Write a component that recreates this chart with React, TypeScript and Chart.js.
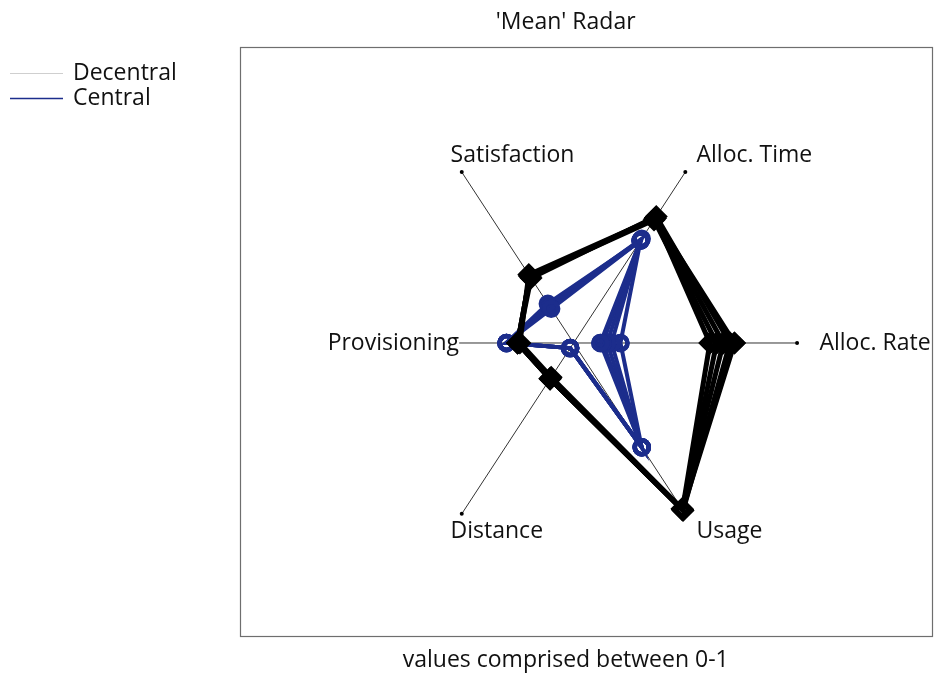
import React, { useEffect, useRef } from "react";
import { Chart, registerables } from "chart.js";

Chart.register(...registerables);

// ---- data ----
const axisLabels = ["Alloc. Rate", "Alloc. Time", "Satisfaction", "Provisioning", "Distance", "Usage"];
const axisAnglesDeg = [0, 60, 120, 180, 240, 300];
const seriesNames = ["Decentral", "Central"];

// values per axis, order: Alloc. Rate, Alloc. Time, Satisfaction, Provisioning, Distance, Usage
const decentralRun1 = [0.61, 0.73, 0.39, 0.25, 0.21, 0.975];
const decentralRun2 = [0.64, 0.72, 0.39, 0.25, 0.21, 0.975];
const decentralRun3 = [0.67, 0.73, 0.4, 0.24, 0.2, 0.97];
const decentralRun4 = [0.7, 0.74, 0.38, 0.25, 0.21, 0.98];
const decentralRun5 = [0.72, 0.73, 0.39, 0.25, 0.21, 0.975];

const centralRun1 = [0.12, 0.6, 0.2, 0.3, 0.03, 0.61];
const centralRun2 = [0.13, 0.6, 0.21, 0.3, 0.03, 0.61];
const centralRun3 = [0.15, 0.61, 0.22, 0.3, 0.03, 0.61];
const centralRun4 = [0.17, 0.6, 0.23, 0.3, 0.03, 0.61];
const centralRun5 = [0.21, 0.6, 0.215, 0.3, 0.03, 0.61];

const decentralRuns = [decentralRun1, decentralRun2, decentralRun3, decentralRun4, decentralRun5];
const centralRuns = [centralRun1, centralRun2, centralRun3, centralRun4, centralRun5];

const axisMax = 1;
const labelRadius = 1.1;
const chartTitle = "'Mean' Radar";
const xAxisTitle = "values comprised between 0-1";

// ---- styles ----
const FONT = "'Open Sans', 'DejaVu Sans', sans-serif";
const FONT_SIZE = 23;
const BLUE = "#1c2d8c";
const BLACK = "#000000";

const toXY = (v: number, i: number) => {
  const a = (axisAnglesDeg[i] * Math.PI) / 180;
  return { x: v * Math.cos(a), y: v * Math.sin(a) };
};

const closedPolygon = (vals: number[]) => {
  const pts = vals.map((v, i) => toXY(v, i));
  pts.push(pts[0]);
  return pts;
};

const decorPlugin = {
  id: "decor",
  afterDatasetsDraw(chart: any) {
    const { ctx, scales } = chart;
    const xs = scales.x;
    const ys = scales.y;
    ctx.save();
    ctx.font = `${FONT_SIZE}px ${FONT}`;
    ctx.textBaseline = "middle";
    ctx.textAlign = "left";
    axisLabels.forEach((lab, i) => {
      const p = toXY(labelRadius, i);
      const px = xs.getPixelForValue(p.x);
      const py = ys.getPixelForValue(p.y);
      const w = ctx.measureText(lab).width;
      ctx.fillStyle = "#ffffff";
      ctx.fillRect(px, py - 12, w, 24);
      ctx.fillStyle = "#111";
      ctx.fillText(lab, px, py);
    });
    ctx.restore();
  },
  afterDraw(chart: any) {
    const { ctx, chartArea: a, scales } = chart;
    ctx.save();
    // box
    ctx.strokeStyle = "#6e6e6e";
    ctx.lineWidth = 1.2;
    ctx.strokeRect(a.left + 0.5, a.top + 0.5, a.right - a.left - 1, a.bottom - a.top - 1);
    // title & axis title
    ctx.fillStyle = "#111";
    ctx.font = `${FONT_SIZE}px ${FONT}`;
    ctx.textAlign = "center";
    ctx.textBaseline = "middle";
    const cx = scales.x.getPixelForValue(-0.035);
    ctx.fillText(chartTitle, cx, a.top - 25);
    ctx.fillText(xAxisTitle, cx, a.bottom + 23);
    // legend
    const colors = ["#cfcfcf", BLUE];
    const widths = [1, 1.5];
    seriesNames.forEach((name, i) => {
      const y = 73 + i * 25;
      ctx.strokeStyle = colors[i];
      ctx.lineWidth = widths[i];
      ctx.beginPath();
      ctx.moveTo(10, y + 0.5);
      ctx.lineTo(63, y + 0.5);
      ctx.stroke();
      ctx.textAlign = "left";
      ctx.fillStyle = "#111";
      ctx.fillText(name, 73, y);
    });
    ctx.restore();
  },
};

export default function App() {
  const ref = useRef<HTMLCanvasElement | null>(null);
  useEffect(() => {
    if (!ref.current) return;
    const spokes = axisLabels.map((lab, i) => ({
      label: "axis " + lab,
      data: [toXY(0, i), toXY(axisMax, i)],
      showLine: true,
      borderColor: "#333",
      borderWidth: 1,
      pointRadius: [0, 2],
      pointBackgroundColor: "#000",
      pointBorderWidth: 0,
      order: 20,
    }));
    const central = centralRuns.map((run, k) => ({
      label: seriesNames[1] + " " + (k + 1),
      data: closedPolygon(run),
      showLine: true,
      borderColor: BLUE,
      borderWidth: 4,
      pointStyle: "circle",
      pointRadius: 7,
      pointBorderWidth: 4.5,
      pointBorderColor: BLUE,
      pointBackgroundColor: "rgba(0,0,0,0)",
      order: 10,
    }));
    const decentral = decentralRuns.map((run, k) => ({
      label: seriesNames[0] + " " + (k + 1),
      data: closedPolygon(run),
      showLine: true,
      borderColor: BLACK,
      borderWidth: 5,
      pointStyle: "rectRot",
      pointRadius: 8,
      pointBorderWidth: 5,
      pointBorderColor: BLACK,
      pointBackgroundColor: "rgba(0,0,0,0)",
      order: 1,
    }));
    const chart = new Chart(ref.current, {
      type: "scatter",
      data: { datasets: [...decentral, ...central, ...spokes] as any },
      plugins: [decorPlugin],
      options: {
        responsive: false,
        animation: false,
        layout: { autoPadding: false, padding: { left: 240, top: 47, right: 1, bottom: 37 } },
        scales: {
          x: { type: "linear", min: -1.492, max: 1.608, display: false },
          y: { type: "linear", min: -1.49, max: 1.5, display: false },
        },
        plugins: {
          legend: { display: false },
          tooltip: { enabled: false },
          title: { display: false },
        },
        elements: { line: { tension: 0 } },
      } as any,
    });
    return () => chart.destroy();
  }, []);
  return (
    <div style={{ position: "fixed", left: 0, top: 0, width: 934, height: 674, background: "#fff" }}>
      <canvas ref={ref} width={934} height={674} style={{ width: 934, height: 674, display: "block" }} />
    </div>
  );
}
